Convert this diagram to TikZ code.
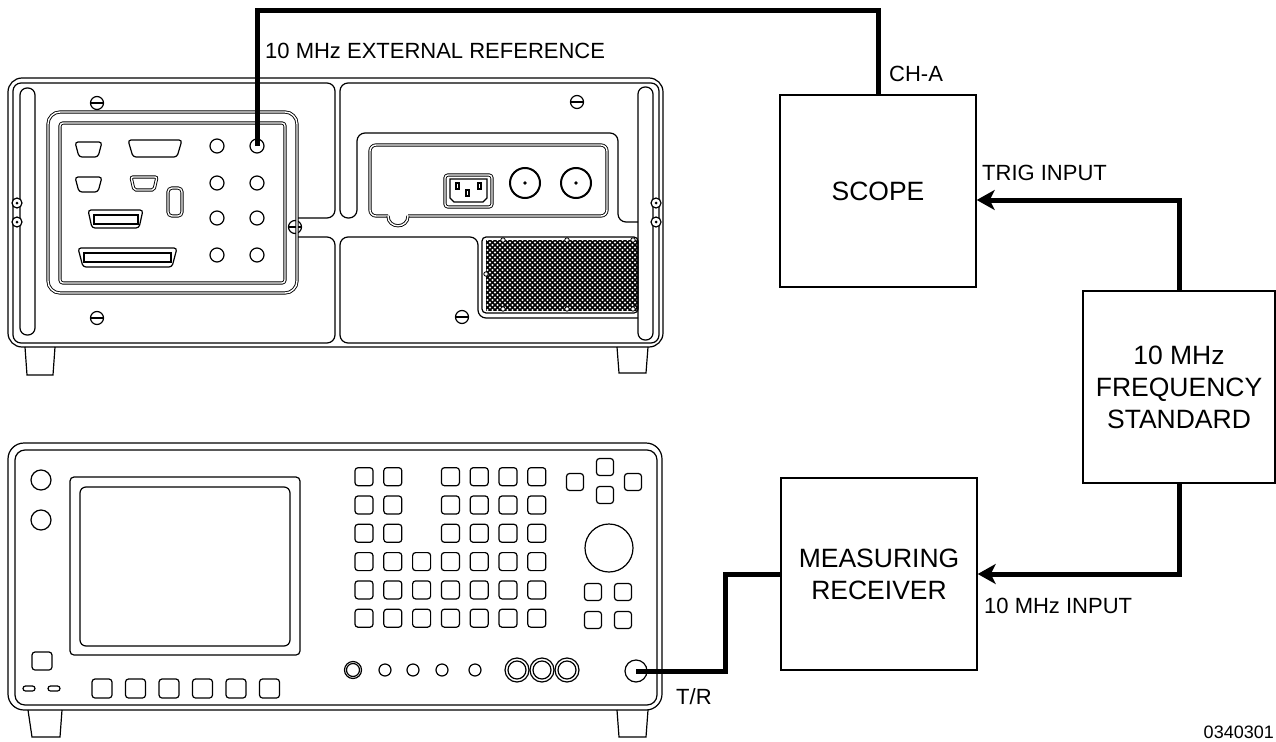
\documentclass[tikz,border=0pt]{standalone}
\usepackage{fontspec}
\setmainfont{Liberation Sans}
\usetikzlibrary{arrows.meta}
\tikzset{
	part/.style={line width=1.2pt},
	recess/.style={line width=0.9pt, double, double distance=1.4pt},
	key/.style={line width=1.2pt, rounded corners=3pt},
	cable/.style={line width=5pt},
	feed/.style={cable, -{Stealth[length=18pt,width=20pt,inset=5pt]}},
	unit/.style={draw, line width=1.4pt, minimum height=192pt, align=center, font=\fontsize{26.5}{32}\selectfont},
	tag/.style={inner sep=0pt, font=\fontsize{22}{26}\selectfont},
}
\begin{document}
\begin{tikzpicture}[x=1pt,y=-1pt]
		\useasboundingbox (0,0) rectangle (1276,741);

		% rear panel
		\draw[part, rounded corners=14pt] (8,78) rectangle (663,347);
		\draw[part, rounded corners=8pt] (297,218) -- (335,218) -- (335,83) -- (13,83) -- (13,343) -- (335,343) -- (335,237) -- (297,237);
		\draw[part, rounded corners=8pt] (638,222) -- (618,222) -- (618,133) -- (357,133) -- (357,218) -- (340,218) -- (340,83) -- (659,83) -- (659,343) -- (340,343) -- (340,237) -- (478,237) -- (478,318) -- (638,318);
		\draw[part, rounded corners=7pt] (20,88) rectangle (35,335);
		\draw[part, rounded corners=7pt] (638,87) rectangle (653,340);
		\foreach \y in {203,222} {
			\draw[part, fill=white] (17,\y) circle (5);
			\fill (17,\y) circle (1.5);
			\draw[part, fill=white] (656,\y) circle (5);
			\fill (656,\y) circle (1.5);
		}
		\draw[part] (25,347) -- (27,375) -- (53,375) -- (55,347);
		\draw[part] (617,347) -- (619,373) -- (646,373) -- (648,347);
		\foreach \p in {(97,103),(97,318),(577,102),(462,317),(295,227)} {
			\draw[part, fill=white] \p circle (6.5);
			\draw[part] \p ++(-6.5,0) -- ++(13,0);
		}

		\draw[recess, rounded corners=12pt] (48,112) rectangle (297,293);
		\draw[recess, rounded corners=3pt] (60,123) rectangle (285,283);
		\draw[part, rounded corners=3pt] (75,142) -- (102,142) -- (98,157) -- (79,157) -- cycle;
		\draw[part, rounded corners=3pt] (128,140) -- (182,140) -- (177,157) -- (133,157) -- cycle;
		\draw[part, rounded corners=3pt] (75,177) -- (102,177) -- (98,192) -- (79,192) -- cycle;
		\draw[recess, rounded corners=2pt] (131,177) -- (157,177) -- (154,190) -- (134,190) -- cycle;
		\draw[recess, rounded corners=4pt] (168,188) rectangle (182,216);
		\draw[part, rounded corners=3pt] (88,210) -- (143,210) -- (139,228) -- (92,228) -- cycle;
		\draw[part] (94,215) rectangle (138,224);
		\draw[part, rounded corners=3pt] (78,248) -- (177,248) -- (172,267) -- (83,267) -- cycle;
		\draw[part] (84,253) rectangle (171,262);
		\foreach \x in {217,257}
			\foreach \y in {146,183,218,255}
				\draw[part] (\x,\y) circle (7);

		\draw[recess, rounded corners=6pt] (388,216) -- (370,216) -- (370,145) -- (607,145) -- (607,216) -- (408,216);
		\draw[recess] (388,216) .. controls (388,229) and (408,229) .. (408,216);
		\draw[recess, rounded corners=3pt] (445,175) rectangle (492,207);
		\draw[part] (450,179) -- (487,179) -- (487,198) -- (483,202) -- (454,202) -- (450,198) -- cycle;
		\draw[part] (456,183) rectangle ++(3,6);
		\draw[part] (466,190) rectangle ++(3,6);
		\draw[part] (478,183) rectangle ++(3,6);
		\foreach \x in {525,576} {
			\draw[line width=2pt] (\x,183) circle (15);
			\fill (\x,183) circle (1.8);
		}

		\begin{scope}
			\clip (486,240) rectangle (638,310);
			\foreach \i in {410,415,...,720} {
				\draw[line width=1.5pt] (\i,240) -- ++(75,75);
				\draw[line width=1.5pt] (\i,240) -- ++(-75,75);
			}
		\end{scope}
		\draw[part, rounded corners=4pt] (482,237) rectangle (638,313);
		\foreach \p in {(503,240),(567,240),(633,240),(503,309),(567,309),(633,309),(486,274)}
			\draw[line width=0.8pt, fill=white] \p circle (2.2);

		% front panel
		\draw[part, rounded corners=16pt] (8,443) rectangle (662,710);
		\draw[part, rounded corners=10pt] (15,450) rectangle (657,705);
		\draw[part] (28,710) -- (32,737) -- (60,737) -- (62,710);
		\draw[part] (617,710) -- (619,737) -- (646,737) -- (648,710);
		\draw[part] (41,480) circle (10);
		\draw[part] (41,520) circle (10);
		\draw[part, rounded corners=4pt] (70,477) rectangle (300,655);
		\draw[part, rounded corners=6pt] (80,487) rectangle (290,646);
		\draw[key] (32,652) rectangle (52,670);
		\draw[part, rounded corners=2.5pt] (23,686) rectangle (35,691);
		\draw[part, rounded corners=2.5pt] (48,686) rectangle (60,691);
		\foreach \c in {0,...,5}
			\draw[key] ({92+33.5*\c},679) rectangle ++(20,19);
		\foreach \c in {0,1,3,4,5,6}
			\foreach \r in {0,1,2}
				\draw[key] ({355+28.8*\c},{467.7+28.3*\r}) rectangle ++(18,18);
		\foreach \c in {0,...,6}
			\foreach \r in {3,4,5}
				\draw[key] ({355+28.8*\c},{467.7+28.3*\r}) rectangle ++(18,18);
		\foreach \p in {(575,482),(605,467),(633,482),(605,495),(593,592),(623,592),(593,620),(623,620)}
			\draw[key] \p ++(-8.5,-8.5) rectangle ++(17,17);
		\draw[part] (609,548) circle (24);
		\draw[part] (353,670) circle (8.5);
		\draw[part] (353,670) circle (6.5);
		\foreach \x in {385,413,442,475}
			\draw[part] (\x,670) circle (6);
		\foreach \x in {517,542,567} {
			\draw[part] (\x,670) circle (12);
			\draw[part] (\x,670) circle (9);
		}

		% bench set-up
		\node[unit, minimum width=196pt] (scope) at (878,191) {SCOPE};
		\node[unit, minimum width=192pt] (freqstd) at (1179,387) {10 MHz\\FREQUENCY\\STANDARD};
		\node[unit, minimum width=196pt] (receiver) at (879,574) {MEASURING\\RECEIVER};
		\coordinate (extref) at (257,146);
		\coordinate (tr) at (636,671);

		\draw[cable] (extref) -- ++(0,-135) -| (scope.north);
		\draw[feed] (freqstd.north) |- ([yshift=-9pt]scope.east);
		\draw[feed] (freqstd.south) |- (receiver.east);
		\draw[cable] (receiver.west) -- ++(-55,0) |- (tr);
		\draw[part] (tr) circle (11);

		\node[tag, anchor=base west] (extlbl) at (265,59) {10 MHz EXTERNAL REFERENCE};
		\node[tag, anchor=base west] (chlbl) at (889,82) {CH-A};
		\node[tag, anchor=base west] (triglbl) at (982,180) {TRIG INPUT};
		\node[tag, anchor=base west] (inlbl) at (984,613) {10 MHz INPUT};
		\node[tag, anchor=base west] (trlbl) at (676,704) {T/R};
		\node[tag, anchor=base east, font=\fontsize{18}{22}\selectfont] (figno) at (1274,738) {0340301};
\end{tikzpicture}
\end{document}
